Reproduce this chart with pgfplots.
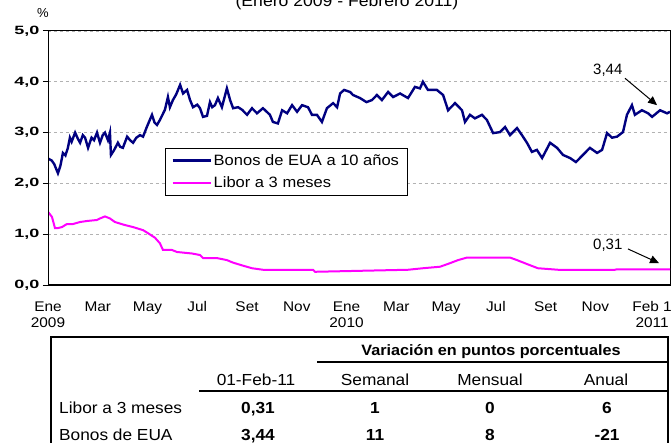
\documentclass[border=0pt]{standalone}
\usepackage{fontspec}
\setmainfont{Liberation Sans}
\newfontfamily\tabfont[FakeStretch=1.08]{Liberation Sans}
\newfontfamily\tickfont[FakeStretch=1.1]{Liberation Sans}
\newfontfamily\yfont[FakeStretch=1.5]{Liberation Sans}
\usepackage{pgfplots}
\pgfplotsset{compat=1.18}
\usetikzlibrary{arrows.meta}
\definecolor{bonos}{RGB}{0,0,128}
\definecolor{libor}{RGB}{255,0,255}

\begin{document}
\begin{tikzpicture}
\begin{axis}[
    scale only axis,
    width=622bp, height=254bp,
    xmin=0, xmax=25, ymin=0, ymax=5,
    axis line style={line width=1bp},
    xtick={0,2,4,6,8,10,12,14,16,18,20,22,24.28},
    xticklabels={Ene\\2009,Mar,May,Jul,Set,Nov,Ene\\2010,Mar,May,Jul,Set,Nov,Feb 1\\2011},
    xtick style={draw=none},
    xticklabel style={font=\tickfont\fontsize{14bp}{16bp}\selectfont, align=center, yshift=-8bp},
    ytick={0,1,2,3,4,5},
    ytick pos=left, tick align=outside, major tick length=5bp,
    ytick style={line width=1bp, black},
    yticklabel style={font=\yfont\bfseries\fontsize{12bp}{12bp}\selectfont},
    /pgf/number format/.cd, fixed, fixed zerofill, precision=1, use comma, assume math mode=true,
    /pgfplots/.cd,
    ymajorgrids,
    grid style={dashed, gray!60, line width=0.8bp},
    legend style={at={(rel axis cs:0.188,0.539)}, anchor=north west,
        draw=black, line width=0.8bp, font=\tickfont\fontsize{15bp}{17bp}\selectfont,
        inner xsep=6bp, inner ysep=4bp, row sep=6bp},
    legend cell align=left,
    legend image code/.code={\draw[#1] (0bp,0bp) -- (38bp,0bp);},
]
\addplot[color=bonos, line width=2.4bp] coordinates {
(0.00,2.49) (0.15,2.45) (0.25,2.38) (0.40,2.20) (0.50,2.35) (0.60,2.60) (0.70,2.55) (0.80,2.70) (0.88,2.90)
(0.95,2.82) (1.09,3.00) (1.20,2.88) (1.29,2.80) (1.40,2.95) (1.49,2.90) (1.61,2.70)
(1.75,2.90) (1.85,2.85) (1.97,3.00) (2.09,2.80) (2.20,2.95) (2.29,3.00) (2.41,2.85)
(2.49,3.00) (2.53,2.56) (2.65,2.65) (2.81,2.80) (2.90,2.72) (3.01,2.70) (3.18,2.92) (3.30,2.85)
(3.42,2.80) (3.55,2.90) (3.70,2.95) (3.82,2.92) (3.98,3.12) (4.18,3.35) (4.28,3.20)
(4.38,3.15) (4.50,3.25) (4.70,3.45) (4.82,3.70) (4.90,3.50) (5.02,3.64) (5.15,3.75)
(5.31,3.94) (5.43,3.77) (5.59,3.84) (5.71,3.64) (5.83,3.50) (6.00,3.55) (6.11,3.48)
(6.23,3.31) (6.39,3.33) (6.51,3.60) (6.60,3.50) (6.71,3.54) (6.83,3.68) (6.99,3.50) (7.19,3.87)
(7.32,3.64) (7.44,3.48) (7.64,3.50) (7.80,3.45) (8.00,3.35) (8.20,3.48) (8.40,3.38)
(8.64,3.48) (8.92,3.35) (9.04,3.21) (9.24,3.18) (9.41,3.44) (9.61,3.38) (9.81,3.54)
(10.01,3.41) (10.21,3.54) (10.45,3.50) (10.61,3.35) (10.81,3.35) (11.01,3.21)
(11.21,3.48) (11.46,3.58) (11.62,3.50) (11.74,3.77) (11.90,3.84) (12.14,3.80)
(12.26,3.74) (12.54,3.68) (12.80,3.60) (13.02,3.64) (13.22,3.74) (13.42,3.64)
(13.67,3.80) (13.87,3.70) (14.15,3.77) (14.47,3.68) (14.75,3.90) (14.95,3.87)
(15.07,4.00) (15.27,3.84) (15.63,3.84) (15.88,3.74) (16.08,3.44) (16.36,3.58)
(16.64,3.44) (16.76,3.21) (16.96,3.35) (17.16,3.28) (17.44,3.35) (17.64,3.25)
(17.89,2.99) (18.17,3.01) (18.37,3.11) (18.57,2.95) (18.85,3.09) (19.05,2.95)
(19.25,2.80) (19.45,2.62) (19.65,2.66) (19.86,2.50) (20.18,2.80) (20.46,2.70)
(20.70,2.56) (20.98,2.50) (21.22,2.42) (21.50,2.56) (21.78,2.70) (22.07,2.60)
(22.27,2.66) (22.47,2.99) (22.67,2.90) (22.87,2.92) (23.11,3.01) (23.27,3.35)
(23.47,3.54) (23.59,3.35) (23.87,3.44) (24.12,3.38) (24.28,3.31) (24.60,3.44)
(24.88,3.38) (25.00,3.41)
};
\addlegendentry{Bonos de EUA a 10 años}
\addplot[color=libor, line width=2bp] coordinates {
(0.00,1.44) (0.16,1.34) (0.28,1.12) (0.40,1.12) (0.56,1.14) (0.76,1.20) (1.00,1.20)
(1.29,1.24) (1.57,1.26) (1.97,1.28) (2.09,1.31) (2.29,1.35) (2.49,1.31) (2.69,1.24)
(3.09,1.18) (3.42,1.14) (3.82,1.08) (4.02,1.02) (4.30,0.93) (4.50,0.82) (4.62,0.69)
(4.98,0.69) (5.18,0.65) (5.79,0.62) (6.11,0.59) (6.23,0.53) (6.79,0.53) (7.19,0.49)
(7.44,0.44) (7.84,0.38) (8.20,0.33) (8.64,0.30) (10.65,0.30) (10.73,0.26) (14.47,0.30)
(15.07,0.33) (15.76,0.36) (16.16,0.43) (16.48,0.49) (16.84,0.54) (18.57,0.54)
(18.85,0.49) (19.37,0.39) (19.69,0.33) (20.50,0.30) (22.79,0.30) (22.87,0.31) (25.00,0.31)
};
\addlegendentry{Libor a 3 meses}
\draw[line width=2.4bp] (rel axis cs:0,1) -- (rel axis cs:0,0) -- (rel axis cs:1,0);
\node[font=\fontsize{15bp}{17bp}\selectfont] at (axis cs:22.5,4.23) {3,44};
\draw[line width=1bp, -{Triangle[length=9bp, width=8bp]}] (axis cs:23.19,4.07) -- (axis cs:24.48,3.54);
\node[font=\fontsize{15bp}{17bp}\selectfont] at (axis cs:22.5,0.79) {0,31};
\draw[line width=1bp, -{Triangle[length=9bp, width=8bp]}] (axis cs:23.31,0.71) -- (axis cs:24.56,0.43);
\end{axis}
% title and unit
\node[anchor=base, font=\tickfont\fontsize{16bp}{18bp}\selectfont] at (299bp,278bp) {(Enero 2009 - Febrero 2011)};
\node[font=\fontsize{13bp}{13bp}\selectfont] at (-5bp,272bp) {\%};
% table
\draw[line width=2bp] (3bp,-170bp) -- (3bp,-52bp) -- (620bp,-52bp) -- (620bp,-170bp);
\draw[line width=2.4bp] (269bp,-77bp) -- (620bp,-77bp);
\draw[line width=2.4bp] (151bp,-106bp) -- (620bp,-106bp);
\begin{scope}[every node/.style={font=\tabfont\fontsize{16bp}{18bp}\selectfont, inner sep=0pt}]
\node[anchor=base, font=\tabfont\bfseries\fontsize{15bp}{18bp}\selectfont] at (443bp,-70bp) {Variación en puntos porcentuales};
\node[anchor=base] at (208bp,-100bp) {01-Feb-11};
\node[anchor=base] at (327bp,-100bp) {Semanal};
\node[anchor=base] at (442bp,-100bp) {Mensual};
\node[anchor=base] at (558bp,-100bp) {Anual};
\node[anchor=base west] at (11bp,-128bp) {Libor a 3 meses};
\node[anchor=base, font=\tabfont\bfseries\fontsize{16bp}{18bp}\selectfont] at (210bp,-128bp) {0,31};
\node[anchor=base, font=\tabfont\bfseries\fontsize{16bp}{18bp}\selectfont] at (327bp,-128bp) {1};
\node[anchor=base, font=\tabfont\bfseries\fontsize{16bp}{18bp}\selectfont] at (442bp,-128bp) {0};
\node[anchor=base, font=\tabfont\bfseries\fontsize{16bp}{18bp}\selectfont] at (559bp,-128bp) {6};
\node[anchor=base west] at (11bp,-155bp) {Bonos de EUA};
\node[anchor=base, font=\tabfont\bfseries\fontsize{16bp}{18bp}\selectfont] at (210bp,-155bp) {3,44};
\node[anchor=base, font=\tabfont\bfseries\fontsize{16bp}{18bp}\selectfont] at (327bp,-155bp) {11};
\node[anchor=base, font=\tabfont\bfseries\fontsize{16bp}{18bp}\selectfont] at (442bp,-155bp) {8};
\node[anchor=base, font=\tabfont\bfseries\fontsize{16bp}{18bp}\selectfont] at (559bp,-155bp) {-21};
\end{scope}
\pgfresetboundingbox
\path[use as bounding box] (-48bp,-158bp) rectangle (624bp,285bp);
\end{tikzpicture}
\end{document}
